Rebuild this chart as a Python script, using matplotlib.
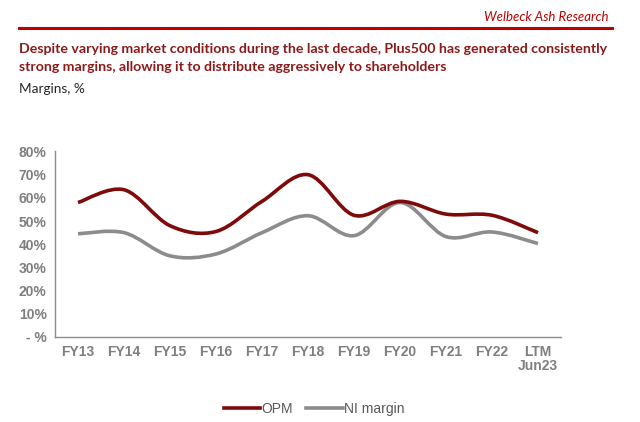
import numpy as np
import matplotlib
matplotlib.use("Agg")
import matplotlib.pyplot as plt
from matplotlib.path import Path
from matplotlib.patches import PathPatch
from matplotlib.lines import Line2D

# ---- data ----
categories = ["FY13", "FY14", "FY15", "FY16", "FY17", "FY18",
              "FY19", "FY20", "FY21", "FY22", "LTM\nJun23"]
opm = [58.0, 63.5, 48.0, 45.5, 58.5, 70.0, 52.5, 58.5, 53.0, 52.5, 45.0]
ni_margin = [44.5, 45.0, 35.0, 35.8, 45.0, 52.3, 43.7, 58.0, 43.3, 45.3, 40.3]
y_ticks = [0, 10, 20, 30, 40, 50, 60, 70, 80]
y_labels = ["- %", "10%", "20%", "30%", "40%", "50%", "60%", "70%", "80%"]

DARK_RED = "#7f0a0a"
GREY = "#8c8c8c"
TITLE_RED = "#8b1a1a"
HEADER_RED = "#c00000"
TICK_GREY = "#7f7f7f"

narrow = ["Liberation Sans Narrow", "Liberation Sans", "DejaVu Sans"]


def smooth_path(xs, ys):
    """Excel-style smoothed line: Catmull-Rom turned into cubic Beziers."""
    pts = np.column_stack([xs, ys]).astype(float)
    verts = [pts[0]]
    codes = [Path.MOVETO]
    n = len(pts)
    for i in range(n - 1):
        p0 = pts[i - 1] if i > 0 else pts[i]
        p1 = pts[i]
        p2 = pts[i + 1]
        p3 = pts[i + 2] if i + 2 < n else pts[i + 1]
        c1 = p1 + (p2 - p0) / 6.0
        c2 = p2 - (p3 - p1) / 6.0
        verts += [c1, c2, p2]
        codes += [Path.CURVE4] * 3
    return Path(verts, codes)


fig = plt.figure(figsize=(6.4, 4.22), dpi=100)

# header
fig.text(609 / 640, 1 - 17 / 422, "Welbeck Ash Research", color=HEADER_RED,
         fontsize=9.5, style="italic", ha="right", va="center",
         family=["Lato", "DejaVu Sans"])
fig.add_artist(Line2D([19 / 640, 612 / 640], [1 - 28 / 422, 1 - 28 / 422],
                      color=HEADER_RED, lw=2.2, transform=fig.transFigure))
fig.text(19 / 640, 1 - 58 / 422,
         "Despite varying market conditions during the last decade, Plus500 has generated consistently\n"
         "strong margins, allowing it to distribute aggressively to shareholders",
         color=TITLE_RED, fontsize=10.2, fontweight="bold", ha="left", va="center",
         linespacing=1.55, family=["Lato", "DejaVu Sans"])
fig.text(19 / 640, 1 - 89 / 422, "Margins, %", color="#262626", fontsize=9.8,
         ha="left", va="center", family=["Lato", "DejaVu Sans"])

ax = fig.add_axes([55 / 640, 1 - 337 / 422, 506 / 640, (337 - 151.5) / 422])
x = np.arange(len(categories))

for vals, col in [(ni_margin, GREY), (opm, DARK_RED)]:
    ax.add_patch(PathPatch(smooth_path(x, vals), facecolor="none",
                           edgecolor=col, lw=2.6, capstyle="butt",
                           joinstyle="round", zorder=3))

ax.set_xlim(-0.5, len(categories) - 0.5)
ax.set_ylim(0, 80)
ax.set_yticks(y_ticks)
ax.set_yticklabels(y_labels)
ax.set_xticks(x)
ax.set_xticklabels(categories, linespacing=1.0)
for side in ["top", "right"]:
    ax.spines[side].set_visible(False)
for side in ["left", "bottom"]:
    ax.spines[side].set_color("#8c8c8c")
    ax.spines[side].set_linewidth(1.0)
ax.tick_params(length=0, pad=6, colors=TICK_GREY)
for lab in ax.get_xticklabels() + ax.get_yticklabels():
    lab.set_family(narrow)
    lab.set_fontsize(10)
    lab.set_fontweight("bold")
    lab.set_color(TICK_GREY)

handles = [Line2D([], [], color=DARK_RED, lw=2.6),
           Line2D([], [], color=GREY, lw=2.6)]
leg = fig.legend(handles, ["OPM", "NI margin"], loc="center",
                 bbox_to_anchor=(314 / 640, 1 - 409 / 422), ncol=2,
                 frameon=False, handlelength=2.6, handletextpad=0.1,
                 columnspacing=1.0, prop={"family": narrow, "size": 10})
for t in leg.get_texts():
    t.set_color("#595959")

fig.savefig("out.png", dpi=100)
